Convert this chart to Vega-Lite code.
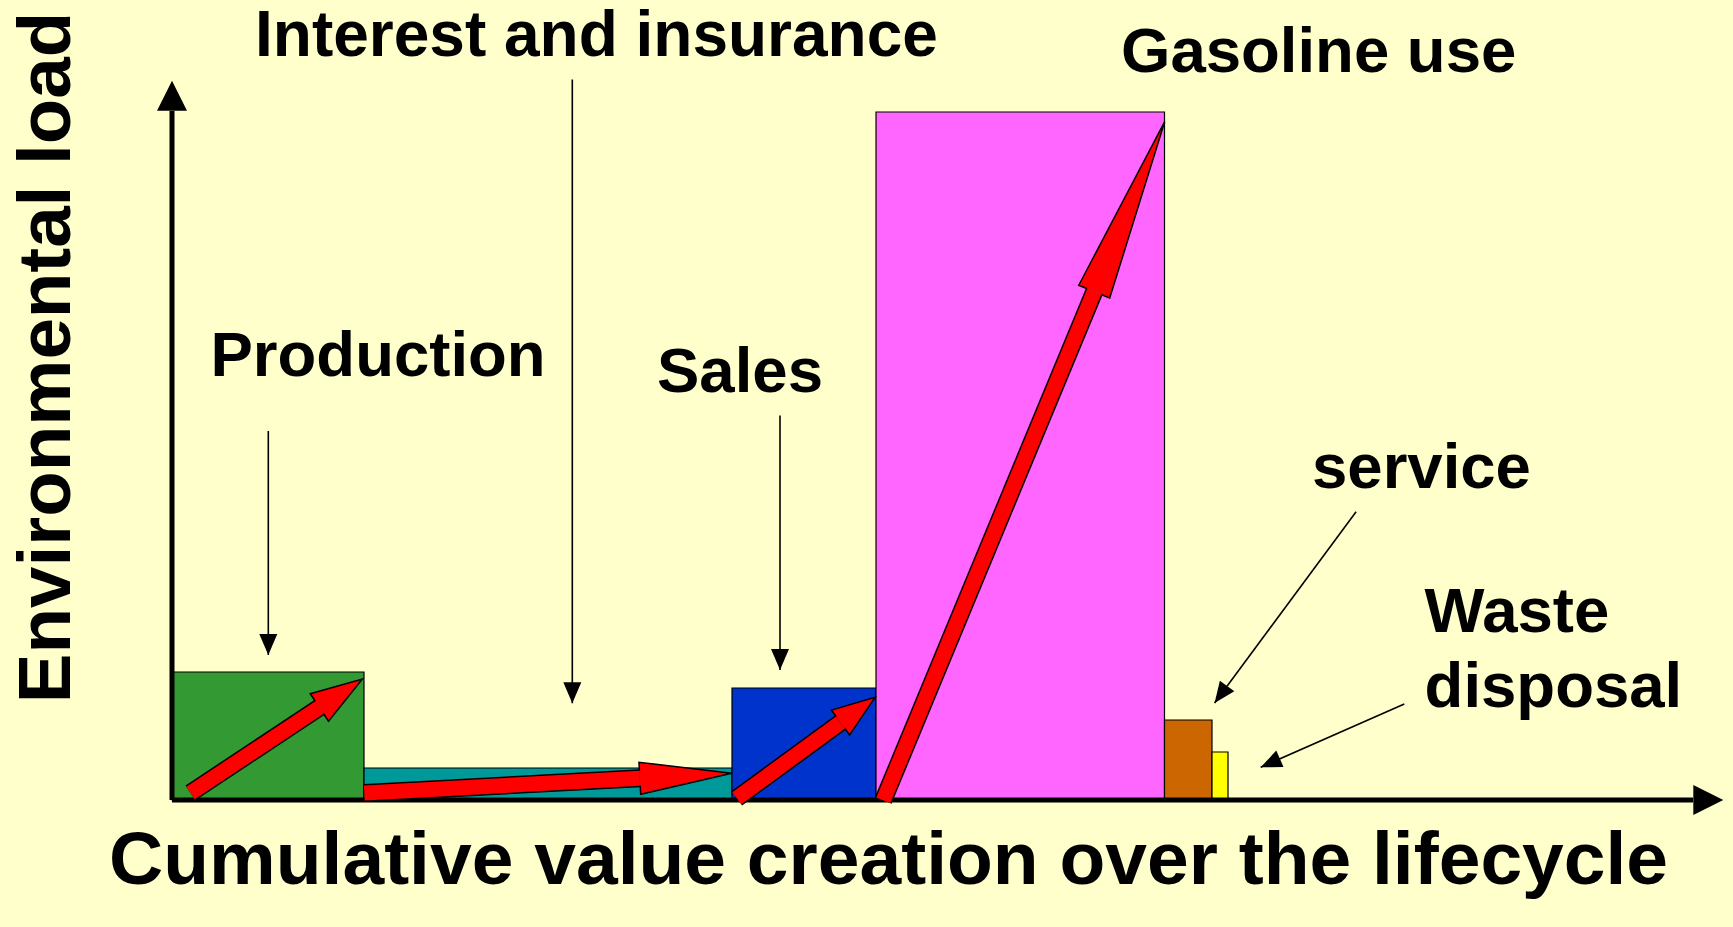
{
  "$schema": "https://vega.github.io/schema/vega-lite/v6.json",
  "width": 1733,
  "height": 927,
  "autosize": {"type": "fit", "contains": "padding"},
  "padding": 0,
  "background": "#FFFFCC",
  "config": {"view": {"stroke": null}},
  "datasets": {
    "bars": [
      {"stage": "Production", "start": 0, "end": 192, "load": 128},
      {"stage": "Interest and insurance", "start": 192, "end": 560, "load": 32},
      {"stage": "Sales", "start": 560, "end": 704, "load": 112},
      {"stage": "Gasoline use", "start": 704, "end": 992.5, "load": 688},
      {"stage": "service", "start": 992.5, "end": 1040, "load": 80},
      {"stage": "Waste disposal", "start": 1040, "end": 1056, "load": 48}
    ],
    "arrows": [
      {"stage": "Production", "x": 18.5, "y": 7, "xb": 147.4, "yb": 92.5, "xt": 190.3, "yt": 121},
      {"stage": "Interest and insurance", "x": 192.3, "y": 7, "xb": 467.8, "yb": 21.8, "xt": 559.7, "yt": 26.7},
      {"stage": "Sales", "x": 564.8, "y": 1.7, "xb": 668.5, "yb": 77.5, "xt": 703, "yt": 102.7},
      {"stage": "Gasoline use", "x": 711.3, "y": -0.3, "xb": 922.2, "yb": 508.3, "xt": 992.7, "yt": 678.3}
    ],
    "pointers": [
      {"label": "Production", "x": 96.3, "y": 369, "xt": 96.3, "yt": 145},
      {"label": "Interest and insurance", "x": 400.3, "y": 720.4, "xt": 400.3, "yt": 96.7},
      {"label": "Sales", "x": 608, "y": 384.4, "xt": 608, "yt": 130},
      {"label": "service", "x": 1184.1, "y": 288.3, "xt": 1042.6, "yt": 97.1},
      {"label": "Waste disposal", "x": 1232.3, "y": 96, "xt": 1088.7, "yt": 32.7}
    ],
    "labels": [
      {"text": "Production", "x": 38.5, "y": 424.3},
      {"text": "Sales", "x": 485, "y": 408},
      {"text": "Interest and insurance", "x": 83, "y": 744},
      {"text": "Gasoline use", "x": 949, "y": 728},
      {"text": "service", "x": 1140, "y": 312.5},
      {"text": "Waste", "x": 1252.6, "y": 168},
      {"text": "disposal", "x": 1252.6, "y": 93}
    ],
    "axes": [
      {"axis": "x", "x": 0, "y": 0, "xb": 1521, "yb": 0, "xt": 1551.3, "yt": 0},
      {"axis": "y", "x": 0, "y": 0, "xb": 0, "yb": 689, "xt": 0, "yt": 719.3}
    ],
    "titles": [
      {"axis": "x", "text": "Cumulative value creation over the lifecycle", "x": 716.6, "y": -84},
      {"axis": "y", "text": "Environmental load", "x": -102.4, "y": 442.5}
    ]
  },
  "layer": [
    {
      "data": {"name": "bars"},
      "mark": {"type": "rect", "stroke": "#000000", "strokeWidth": 1.2},
      "encoding": {
        "x": {"field": "start", "type": "quantitative", "scale": {"domain": [-172, 1561], "nice": false, "zero": false}, "axis": null},
        "x2": {"field": "end"},
        "y": {"field": "load", "type": "quantitative", "scale": {"domain": [-127, 800], "nice": false, "zero": false}, "axis": null},
        "y2": {"datum": 0},
        "color": {
          "field": "stage", "type": "nominal", "legend": null,
          "scale": {
            "domain": ["Production", "Interest and insurance", "Sales", "Gasoline use", "service", "Waste disposal"],
            "range": ["#339933", "#009999", "#0033CC", "#FF66FF", "#CC6600", "#FFFF00"]
          }
        }
      }
    },
    {
      "data": {"name": "axes"},
      "mark": {"type": "rule", "color": "#000000", "strokeWidth": 5},
      "encoding": {
        "x": {"field": "x", "type": "quantitative", "scale": {"domain": [-172, 1561], "nice": false, "zero": false}, "axis": null},
        "y": {"field": "y", "type": "quantitative", "scale": {"domain": [-127, 800], "nice": false, "zero": false}, "axis": null},
        "x2": {"field": "xb"},
        "y2": {"field": "yb"}
      }
    },
    {
      "data": {"name": "axes"},
      "transform": [{"filter": "datum.axis === 'x'"}],
      "mark": {"type": "point", "shape": "M 0 0 L -15 30 L 15 30 Z", "size": 4, "angle": 90, "filled": true, "fill": "#000000", "stroke": null, "opacity": 1},
      "encoding": {
        "x": {"field": "xt", "type": "quantitative", "scale": {"domain": [-172, 1561], "nice": false, "zero": false}, "axis": null},
        "y": {"field": "yt", "type": "quantitative", "scale": {"domain": [-127, 800], "nice": false, "zero": false}, "axis": null}
      }
    },
    {
      "data": {"name": "axes"},
      "transform": [{"filter": "datum.axis === 'y'"}],
      "mark": {"type": "point", "shape": "M 0 0 L -15 30 L 15 30 Z", "size": 4, "angle": 0, "filled": true, "fill": "#000000", "stroke": null, "opacity": 1},
      "encoding": {
        "x": {"field": "xt", "type": "quantitative", "scale": {"domain": [-172, 1561], "nice": false, "zero": false}, "axis": null},
        "y": {"field": "yt", "type": "quantitative", "scale": {"domain": [-127, 800], "nice": false, "zero": false}, "axis": null}
      }
    },
    {
      "data": {"name": "arrows"},
      "mark": {"type": "rule", "color": "#000000", "strokeWidth": 18, "strokeCap": "butt"},
      "encoding": {
        "x": {"field": "x", "type": "quantitative", "scale": {"domain": [-172, 1561], "nice": false, "zero": false}, "axis": null},
        "y": {"field": "y", "type": "quantitative", "scale": {"domain": [-127, 800], "nice": false, "zero": false}, "axis": null},
        "x2": {"field": "xb"},
        "y2": {"field": "yb"}
      }
    },
    {
      "data": {"name": "arrows"},
      "mark": {"type": "rule", "color": "#FF0000", "strokeWidth": 15, "strokeCap": "butt"},
      "encoding": {
        "x": {"field": "x", "type": "quantitative", "scale": {"domain": [-172, 1561], "nice": false, "zero": false}, "axis": null},
        "y": {"field": "y", "type": "quantitative", "scale": {"domain": [-127, 800], "nice": false, "zero": false}, "axis": null},
        "x2": {"field": "xb"},
        "y2": {"field": "yb"}
      }
    },
    {
      "data": {"name": "arrows"},
      "transform": [{"filter": "datum.stage === 'Production'"}],
      "mark": {"type": "point", "shape": "M -7.5 51.5 L -16.5 51.5 L 0 0 L 16.5 51.5 L 7.5 51.5", "size": 4, "angle": 56.4, "filled": true, "fill": "#FF0000", "stroke": "#000000", "strokeWidth": 1.5, "strokeJoin": "miter", "opacity": 1},
      "encoding": {
        "x": {"field": "xt", "type": "quantitative", "scale": {"domain": [-172, 1561], "nice": false, "zero": false}, "axis": null},
        "y": {"field": "yt", "type": "quantitative", "scale": {"domain": [-127, 800], "nice": false, "zero": false}, "axis": null}
      }
    },
    {
      "data": {"name": "arrows"},
      "transform": [{"filter": "datum.stage === 'Interest and insurance'"}],
      "mark": {"type": "point", "shape": "M -7.5 92 L -16 92 L 0 0 L 16 92 L 7.5 92", "size": 4, "angle": 86.93, "filled": true, "fill": "#FF0000", "stroke": "#000000", "strokeWidth": 1.5, "strokeJoin": "miter", "opacity": 1},
      "encoding": {
        "x": {"field": "xt", "type": "quantitative", "scale": {"domain": [-172, 1561], "nice": false, "zero": false}, "axis": null},
        "y": {"field": "yt", "type": "quantitative", "scale": {"domain": [-127, 800], "nice": false, "zero": false}, "axis": null}
      }
    },
    {
      "data": {"name": "arrows"},
      "transform": [{"filter": "datum.stage === 'Sales'"}],
      "mark": {"type": "point", "shape": "M -7.5 42.7 L -15.3 42.7 L 0 0 L 15.3 42.7 L 7.5 42.7", "size": 4, "angle": 53.84, "filled": true, "fill": "#FF0000", "stroke": "#000000", "strokeWidth": 1.5, "strokeJoin": "miter", "opacity": 1},
      "encoding": {
        "x": {"field": "xt", "type": "quantitative", "scale": {"domain": [-172, 1561], "nice": false, "zero": false}, "axis": null},
        "y": {"field": "yt", "type": "quantitative", "scale": {"domain": [-127, 800], "nice": false, "zero": false}, "axis": null}
      }
    },
    {
      "data": {"name": "arrows"},
      "transform": [{"filter": "datum.stage === 'Gasoline use'"}],
      "mark": {"type": "point", "shape": "M -7.5 184 L -16.75 184 L 0 0 L 16.75 184 L 7.5 184", "size": 4, "angle": 22.52, "filled": true, "fill": "#FF0000", "stroke": "#000000", "strokeWidth": 1.5, "strokeJoin": "miter", "opacity": 1},
      "encoding": {
        "x": {"field": "xt", "type": "quantitative", "scale": {"domain": [-172, 1561], "nice": false, "zero": false}, "axis": null},
        "y": {"field": "yt", "type": "quantitative", "scale": {"domain": [-127, 800], "nice": false, "zero": false}, "axis": null}
      }
    },
    {
      "data": {"name": "pointers"},
      "mark": {"type": "rule", "color": "#000000", "strokeWidth": 1.6},
      "encoding": {
        "x": {"field": "x", "type": "quantitative", "scale": {"domain": [-172, 1561], "nice": false, "zero": false}, "axis": null},
        "y": {"field": "y", "type": "quantitative", "scale": {"domain": [-127, 800], "nice": false, "zero": false}, "axis": null},
        "x2": {"field": "xt"},
        "y2": {"field": "yt"}
      }
    },
    {
      "data": {"name": "pointers"},
      "transform": [{"filter": "datum.label === 'Production' || datum.label === 'Interest and insurance' || datum.label === 'Sales'"}],
      "mark": {"type": "point", "shape": "M 0 0 L -9 21 L 9 21 Z", "size": 4, "angle": 180, "filled": true, "fill": "#000000", "stroke": null, "opacity": 1},
      "encoding": {
        "x": {"field": "xt", "type": "quantitative", "scale": {"domain": [-172, 1561], "nice": false, "zero": false}, "axis": null},
        "y": {"field": "yt", "type": "quantitative", "scale": {"domain": [-127, 800], "nice": false, "zero": false}, "axis": null}
      }
    },
    {
      "data": {"name": "pointers"},
      "transform": [{"filter": "datum.label === 'service'"}],
      "mark": {"type": "point", "shape": "M 0 0 L -9 21 L 9 21 Z", "size": 4, "angle": 216.5, "filled": true, "fill": "#000000", "stroke": null, "opacity": 1},
      "encoding": {
        "x": {"field": "xt", "type": "quantitative", "scale": {"domain": [-172, 1561], "nice": false, "zero": false}, "axis": null},
        "y": {"field": "yt", "type": "quantitative", "scale": {"domain": [-127, 800], "nice": false, "zero": false}, "axis": null}
      }
    },
    {
      "data": {"name": "pointers"},
      "transform": [{"filter": "datum.label === 'Waste disposal'"}],
      "mark": {"type": "point", "shape": "M 0 0 L -9 21 L 9 21 Z", "size": 4, "angle": 246.2, "filled": true, "fill": "#000000", "stroke": null, "opacity": 1},
      "encoding": {
        "x": {"field": "xt", "type": "quantitative", "scale": {"domain": [-172, 1561], "nice": false, "zero": false}, "axis": null},
        "y": {"field": "yt", "type": "quantitative", "scale": {"domain": [-127, 800], "nice": false, "zero": false}, "axis": null}
      }
    },
    {
      "data": {"name": "labels"},
      "transform": [{"filter": "datum.text === 'Interest and insurance'"}],
      "mark": {"type": "text", "font": "Liberation Sans", "fontWeight": "bold", "fontSize": 64, "align": "left", "baseline": "alphabetic", "color": "#000000"},
      "encoding": {
        "x": {"field": "x", "type": "quantitative", "scale": {"domain": [-172, 1561], "nice": false, "zero": false}, "axis": null},
        "y": {"field": "y", "type": "quantitative", "scale": {"domain": [-127, 800], "nice": false, "zero": false}, "axis": null},
        "text": {"field": "text"}
      }
    },
    {
      "data": {"name": "labels"},
      "transform": [{"filter": "datum.text !== 'Interest and insurance'"}],
      "mark": {"type": "text", "font": "Liberation Sans", "fontWeight": "bold", "fontSize": 63.5, "align": "left", "baseline": "alphabetic", "color": "#000000"},
      "encoding": {
        "x": {"field": "x", "type": "quantitative", "scale": {"domain": [-172, 1561], "nice": false, "zero": false}, "axis": null},
        "y": {"field": "y", "type": "quantitative", "scale": {"domain": [-127, 800], "nice": false, "zero": false}, "axis": null},
        "text": {"field": "text"}
      }
    },
    {
      "data": {"name": "titles"},
      "transform": [{"filter": "datum.axis === 'x'"}],
      "mark": {"type": "text", "font": "Liberation Sans", "fontWeight": "bold", "fontSize": 75, "align": "center", "baseline": "alphabetic", "color": "#000000"},
      "encoding": {
        "x": {"field": "x", "type": "quantitative", "scale": {"domain": [-172, 1561], "nice": false, "zero": false}, "axis": null},
        "y": {"field": "y", "type": "quantitative", "scale": {"domain": [-127, 800], "nice": false, "zero": false}, "axis": null},
        "text": {"field": "text"}
      }
    },
    {
      "data": {"name": "titles"},
      "transform": [{"filter": "datum.axis === 'y'"}],
      "mark": {"type": "text", "font": "Liberation Sans", "fontWeight": "bold", "fontSize": 74.5, "align": "center", "baseline": "alphabetic", "angle": 270, "color": "#000000"},
      "encoding": {
        "x": {"field": "x", "type": "quantitative", "scale": {"domain": [-172, 1561], "nice": false, "zero": false}, "axis": null},
        "y": {"field": "y", "type": "quantitative", "scale": {"domain": [-127, 800], "nice": false, "zero": false}, "axis": null},
        "text": {"field": "text"}
      }
    }
  ]
}
